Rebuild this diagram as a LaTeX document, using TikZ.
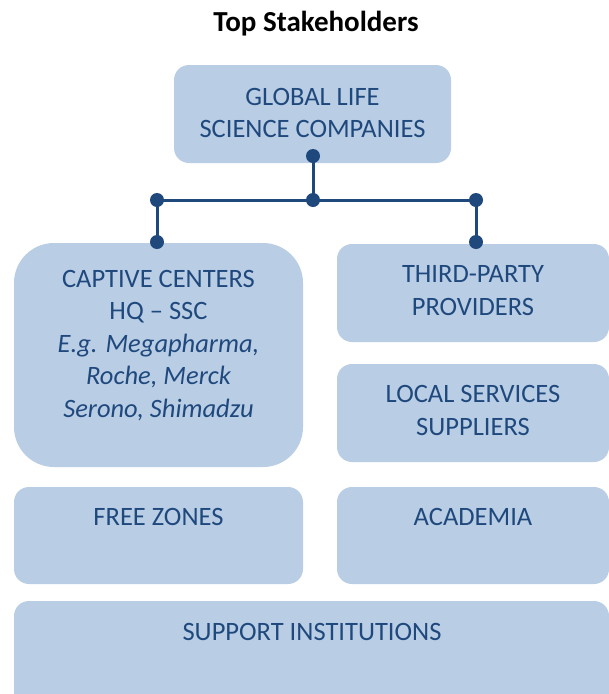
\documentclass[tikz,border=0pt]{standalone}
\usepackage{fontspec}
\setmainfont{Carlito}
\definecolor{boxblue}{HTML}{B9CDE5}
\definecolor{darkblue}{HTML}{1F497D}
\begin{document}
\begin{tikzpicture}[x=1pt,y=-1pt,
  box/.style={fill=boxblue, draw=none, inner sep=0pt},
  lbl/.style={text=darkblue, align=center, font=\fontsize{26.5}{32.5}\selectfont, inner sep=0pt},
  dot/.style={circle, fill=darkblue, minimum size=14pt, inner sep=0pt},
  conn/.style={draw=darkblue, line width=3pt}]
\useasboundingbox (0,0) rectangle (609,694);
\clip (0,0) rectangle (609,694);
% title
\node[font=\bfseries\fontsize{29}{34}\selectfont, inner sep=0pt] (title) at (316,24) {Top Stakeholders};
% boxes
\node[box, rounded corners=15pt, minimum width=277pt, minimum height=98pt] (top) at (312.5,114) {};
\node[box, rounded corners=40pt, minimum width=289pt, minimum height=224pt] (capt) at (158.5,355) {};
\node[box, rounded corners=15pt, minimum width=272pt, minimum height=98pt] (third) at (473,293) {};
\node[box, rounded corners=15pt, minimum width=272pt, minimum height=98pt] (local) at (473,413) {};
\node[box, rounded corners=15pt, minimum width=289pt, minimum height=97pt] (free) at (158.5,535.5) {};
\node[box, rounded corners=15pt, minimum width=272pt, minimum height=97pt] (acad) at (473,535.5) {};
\node[box, rounded corners=15pt, minimum width=595pt, minimum height=110pt] (supp) at (311.5,656) {};
% labels
\node[lbl] (topl) at (312.5,113) {GLOBAL LIFE\\SCIENCE COMPANIES};
\node[lbl] (captl) at (158.5,345.5) {CAPTIVE CENTERS\\HQ -- SSC\\\itshape E.g. Megapharma,\\\itshape Roche, Merck\\\itshape Serono, Shimadzu};
\node[lbl] (thirdl) at (473,290.5) {THIRD-PARTY\\PROVIDERS};
\node[lbl] (locall) at (473,410.5) {LOCAL SERVICES\\SUPPLIERS};
\node[lbl] (freel) at (158.5,517) {FREE ZONES};
\node[lbl] (acadl) at (473,517) {ACADEMIA};
\node[lbl] (suppl) at (312,632) {SUPPORT INSTITUTIONS};
% connectors
\coordinate (d0) at (313,156);
\coordinate (dm) at (313,200);
\coordinate (dl) at (157,200);
\coordinate (dr) at (476,200);
\coordinate (cl) at (157,242);
\coordinate (cr) at (476,242);
\draw[conn] (d0) -- (dm);
\draw[conn] (dl) -- (dr);
\draw[conn] (dl) -- (cl);
\draw[conn] (dr) -- (cr);
\foreach \p in {d0,dm,dl,dr,cl,cr} \node[dot] at (\p) {};
\end{tikzpicture}
\end{document}
